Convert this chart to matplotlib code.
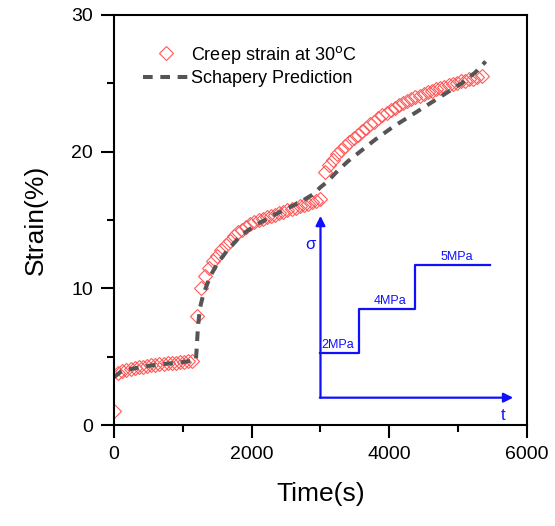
import numpy as np
import matplotlib.pyplot as plt

plt.rcParams['font.family'] = ['Liberation Sans', 'DejaVu Sans']

# measured creep strain (%) vs time (s)
time_exp = [0, 60, 120, 180, 240, 300, 360, 420, 480, 540, 600, 660, 720, 780, 840, 900,
            960, 1020, 1080, 1140,
            1200, 1260, 1320, 1380, 1440, 1500, 1560, 1620, 1680, 1740, 1800, 1860, 1920,
            1980, 2040, 2100, 2160, 2220, 2280, 2340, 2400, 2460, 2520, 2580, 2640, 2700,
            2760, 2820, 2880, 2940, 3000,
            3060, 3120, 3180, 3240, 3300, 3360, 3420, 3480, 3540, 3600, 3660, 3720, 3780,
            3840, 3900, 3960, 4020, 4080, 4140, 4200, 4260, 4320, 4380, 4440, 4500, 4560,
            4620, 4680, 4740, 4800, 4860, 4920, 4980, 5040, 5100, 5160, 5220, 5280, 5340]
strain_exp = [1.0, 3.8, 3.95, 4.05, 4.12, 4.18, 4.23, 4.28, 4.32, 4.36, 4.4, 4.44, 4.48,
              4.51, 4.54, 4.57, 4.6, 4.63, 4.66, 4.7,
              8.0, 10.0, 10.9, 11.5, 12.0, 12.4, 12.8, 13.2, 13.5, 13.8, 14.1, 14.3, 14.5,
              14.7, 14.85, 15.0, 15.1, 15.2, 15.3, 15.4, 15.5, 15.6, 15.7, 15.8, 15.9, 16.0,
              16.1, 16.2, 16.3, 16.4, 16.5,
              18.5, 19.0, 19.4, 19.8, 20.1, 20.4, 20.7, 21.0, 21.25, 21.5, 21.75, 22.0, 22.2,
              22.45, 22.65, 22.85, 23.05, 23.2, 23.4, 23.55, 23.7, 23.85, 24.0, 24.1, 24.25,
              24.35, 24.45, 24.55, 24.65, 24.75, 24.85, 24.95, 25.05, 25.15, 25.2, 25.3,
              25.35, 25.45, 25.5]

# Schapery model prediction
time_pred = [0, 100, 200, 400, 600, 800, 1000, 1190, 1200, 1220, 1250, 1300, 1400, 1500,
             1650, 1850, 2050, 2300, 2500, 2700, 2900, 3000, 3100, 3250, 3400, 3600, 3800,
             4050, 4300, 4550, 4800, 5050, 5250, 5400]
strain_pred = [3.5, 3.9, 4.05, 4.25, 4.4, 4.5, 4.6, 4.75, 5.5, 7.2, 8.6, 9.6, 10.9, 11.8,
               12.8, 13.9, 14.6, 15.3, 15.8, 16.3, 16.9, 17.4, 17.8, 18.6, 19.3, 20.1, 20.9,
               21.8, 22.6, 23.4, 24.2, 25.0, 25.8, 26.6]

# stress history sketch (inset)
step_times = [3000, 3560, 4375, 5465]
step_levels = [5.3, 8.5, 11.7]
step_labels = ['2MPa', '4MPa', '5MPa']

fig = plt.figure(figsize=(5.55, 5.26), dpi=100)
ax = fig.add_axes([0.2054, 0.192, 0.7441, 0.7795])

ax.plot(time_exp, strain_exp, linestyle='none', marker='D', ms=7.5, mfc='none',
        mec='#ff5a5a', mew=0.8, label='Creep strain at 30$^{\\rm o}$C')
ax.plot(time_pred, strain_pred, linestyle=(0, (2.4, 1.9)), color='#555555', lw=2.9,
        label='Schapery Prediction')

# inset stress steps
blue = '#1010ff'
xs = [step_times[0], step_times[1], step_times[1], step_times[2], step_times[2], step_times[3]]
ys = [step_levels[0], step_levels[0], step_levels[1], step_levels[1], step_levels[2], step_levels[2]]
ax.plot(xs, ys, color=blue, lw=1.6)
ax.annotate('', xy=(step_times[0], 15.3), xytext=(step_times[0], 2.0),
            arrowprops=dict(arrowstyle='-|>', color=blue, lw=1.6, mutation_scale=14,
                            shrinkA=0, shrinkB=0))
ax.annotate('', xy=(5800, 2.0), xytext=(step_times[0] - 10, 2.0),
            arrowprops=dict(arrowstyle='-|>', color=blue, lw=1.6, mutation_scale=14,
                            shrinkA=0, shrinkB=0))
ax.text(2850, 13.2, 'σ', color=blue, fontsize=12, ha='center', va='center')
ax.text(5650, 0.7, 't', color=blue, fontsize=12, ha='center', va='center')
lab_x = [3255, 4010, 4985]
for x, lvl, s in zip(lab_x, step_levels, step_labels):
    ax.text(x, lvl + 0.15, s, color=blue, fontsize=9, ha='center', va='bottom')

ax.set_xlim(0, 6000)
ax.set_ylim(0, 30)
ax.set_xticks([0, 2000, 4000, 6000])
ax.set_xticks([1000, 3000, 5000], minor=True)
ax.set_yticks([0, 10, 20, 30])
ax.set_yticks([5, 15, 25], minor=True)
for s in ax.spines.values():
    s.set_linewidth(1.5)
ax.tick_params(which='major', length=9.5, width=1.5, labelsize=14, pad=5.5)
ax.tick_params(which='minor', length=5, width=1.5)

ax.set_xlabel('Time(s)', fontsize=19, labelpad=14)
ax.set_ylabel('Strain(%)', fontsize=19, labelpad=17)

ax.legend(loc='upper left', bbox_to_anchor=(0.03, 0.97), frameon=False, fontsize=13,
          handlelength=2.6, handletextpad=0.1, labelspacing=0.25)

fig.savefig('out.png', dpi=100)
